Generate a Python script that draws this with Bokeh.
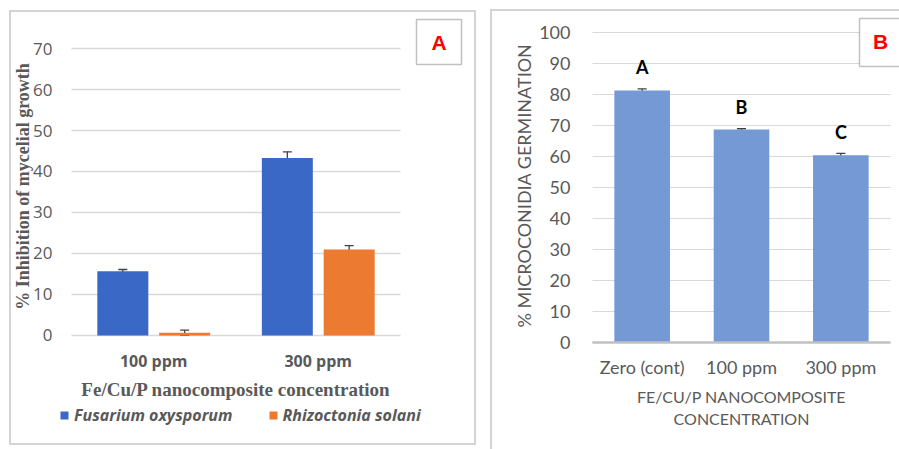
import math
from bokeh.plotting import figure
from bokeh.models import (Range1d, Whisker, TeeHead, ColumnDataSource,
                          Legend, LegendItem, Label, BoxAnnotation, FixedTicker)
from bokeh.transform import dodge
from bokeh.layouts import row
from bokeh.embed import file_html
from bokeh.resources import INLINE
from bokeh.core.properties import value

# ---------------- Panel A data ----------------
conc_a = ["100 ppm", "300 ppm"]
fusarium = [15.7, 43.3]
fusarium_err = [0.4, 1.5]
rhizoctonia = [0.7, 21.0]
rhizoctonia_err = [0.6, 0.9]
yticks_a = [0, 10, 20, 30, 40, 50, 60, 70]

# ---------------- Panel B data ----------------
conc_b = ["Zero (cont)", "100 ppm", "300 ppm"]
germination = [81.3, 68.7, 60.4]
germination_err = [0.5, 0.3, 0.6]
letters = ["A", "B", "C"]
yticks_b = [0, 10, 20, 30, 40, 50, 60, 70, 80, 90, 100]

GREY = "#595959"
GRID = "#d9d9d9"


def box_css(lines, color="#d4d4d4"):
    """lines: list of (x, y, w, h) in px of the element -> CSS background lines"""
    return {
        "background-image": ", ".join([f"linear-gradient({color},{color})"] * len(lines)),
        "background-size": ", ".join(f"{w}px {h}px" for (_, _, w, h) in lines),
        "background-position": ", ".join(f"{x}px {y}px" for (x, y, _, _) in lines),
        "background-repeat": "no-repeat",
    }


def canvas_box(left, right, top, bottom, **kw):
    return BoxAnnotation(left=left, right=right, top=top, bottom=bottom,
                         left_units="canvas", right_units="canvas",
                         top_units="canvas", bottom_units="canvas", **kw)


# ================= Panel A =================
xa = list(range(len(conc_a)))
pA = figure(x_range=Range1d(-0.8708, 1.9255), y_range=Range1d(-25.61, 77.805),
            width=490, height=449, output_backend="svg", toolbar_location=None,
            min_border_left=10, min_border_right=20, min_border_top=16, min_border_bottom=9)
pA.outline_line_color = None
pA.border_fill_color = None
pA.background_fill_color = None
pA.styles = box_css([(9, 10, 467, 2), (9, 443, 467, 2), (9, 10, 2, 435), (474, 10, 2, 435)])
pA.xgrid.grid_line_color = None
pA.ygrid.grid_line_color = GRID
pA.ygrid.grid_line_width = 1.5
pA.ygrid.cross_bounds = (-0.5, len(conc_a) - 0.5)

src_a = ColumnDataSource(dict(
    x=xa,
    fus=fusarium,
    fus_lo=[v - e for v, e in zip(fusarium, fusarium_err)],
    fus_hi=[v + e for v, e in zip(fusarium, fusarium_err)],
    rhi=rhizoctonia,
    rhi_lo=[v - e for v, e in zip(rhizoctonia, rhizoctonia_err)],
    rhi_hi=[v + e for v, e in zip(rhizoctonia, rhizoctonia_err)],
))

off = 0.188
r_fus = pA.vbar(x=dodge("x", -off), top="fus", width=0.31,
                source=src_a, fill_color="#3A68C6", line_color=None)
r_rhi = pA.vbar(x=dodge("x", off), top="rhi", width=0.31,
                source=src_a, fill_color="#EC7A30", line_color=None)

for base, lo, hi in [(-off, "fus_lo", "fus_hi"), (off, "rhi_lo", "rhi_hi")]:
    pA.add_layout(Whisker(source=src_a, base=dodge("x", base), lower=lo, upper=hi,
                          line_color="#404040", line_width=1.3,
                          upper_head=TeeHead(size=9, line_color="#404040", line_width=1.3),
                          lower_head=TeeHead(size=9, line_color="#404040", line_width=1.3)))

pA.yaxis.ticker = FixedTicker(ticks=yticks_a)
pA.yaxis.axis_line_color = None
pA.yaxis.major_tick_line_color = None
pA.yaxis.minor_tick_line_color = None
pA.yaxis.major_label_text_font = "Open Sans"
pA.yaxis.major_label_text_font_size = "17px"
pA.yaxis.major_label_text_color = GREY
pA.yaxis.major_label_standoff = -48

pA.add_layout(Label(x=22, y=186, x_units="canvas", y_units="canvas", angle=math.pi / 2,
                    text="% Inhibition of mycelial growth",
                    text_align="center", text_baseline="middle",
                    text_font="Liberation Serif", text_font_style="bold",
                    text_font_size="18px", text_color=GREY))

pA.xaxis.ticker = FixedTicker(ticks=xa)
pA.xaxis.major_label_overrides = {i: c for i, c in zip(xa, conc_a)}
pA.xaxis.axis_line_color = None
pA.xaxis.major_tick_line_color = None
pA.xaxis.minor_tick_line_color = None
pA.xaxis.major_label_text_font = "Open Sans"
pA.xaxis.major_label_text_font_style = "bold"
pA.xaxis.major_label_text_font_size = "16px"
pA.xaxis.major_label_text_color = GREY
pA.xaxis.major_label_standoff = -97

pA.add_layout(Label(x=235.5, y=389, x_units="canvas", y_units="canvas",
                    text="Fe/Cu/P nanocomposite concentration",
                    text_align="center", text_baseline="middle",
                    text_font="Liberation Serif", text_font_style="bold",
                    text_font_size="19px", text_color=GREY))

legend = Legend(items=[LegendItem(label="Fusarium oxysporum", renderers=[r_fus]),
                       LegendItem(label="Rhizoctonia solani", renderers=[r_rhi])],
                orientation="horizontal", location=(49, 14),
                glyph_width=10, glyph_height=10, label_standoff=5, spacing=35,
                padding=0, margin=0, border_line_color=None, background_fill_alpha=0,
                label_text_font="Open Sans", label_text_font_style="bold italic",
                label_text_font_size="16px", label_text_color=GREY)
pA.add_layout(legend, "center")

pA.add_layout(canvas_box(416, 461, 19, 64, fill_color="white", fill_alpha=1,
                         line_color="#333333", line_width=1.5))
pA.add_layout(Label(x=438.5, y=41.5, x_units="canvas", y_units="canvas", text="A",
                    text_align="center", text_baseline="middle", text_color="#ff0000",
                    text_font="Liberation Sans", text_font_style="bold", text_font_size="21px"))

# ================= Panel B =================
xb = list(range(len(conc_b)))
pB = figure(x_range=Range1d(-1.4262, 2.5906), y_range=Range1d(-31.613, 105.161),
            width=409, height=449, output_backend="svg", toolbar_location=None,
            min_border_left=10, min_border_right=0, min_border_top=16, min_border_bottom=9)
pB.outline_line_color = None
pB.border_fill_color = None
pB.background_fill_color = None
pB.styles = box_css([(0, 9, 409, 2), (0, 9, 2, 440)])
pB.xgrid.grid_line_color = None
pB.ygrid.grid_line_color = GRID
pB.ygrid.grid_line_width = 1
pB.ygrid.cross_bounds = (-0.5, len(conc_b) - 0.5)

src_b = ColumnDataSource(dict(
    x=xb, germ=germination, letter=letters,
    lo=[v - e for v, e in zip(germination, germination_err)],
    hi=[v + e for v, e in zip(germination, germination_err)],
))
pB.vbar(x="x", top="germ", width=0.56, source=src_b, fill_color="#7599D5", line_color=None)
# category axis line at value 0
pB.segment(x0=[-0.5], x1=[len(conc_b) - 0.5], y0=[0], y1=[0], line_color="#c0c0c0", line_width=2.5)
pB.add_layout(Whisker(source=src_b, base="x", lower="lo", upper="hi",
                      line_color="#404040", line_width=1.3,
                      upper_head=TeeHead(size=9, line_color="#404040", line_width=1.3),
                      lower_head=TeeHead(size=9, line_color="#404040", line_width=1.3)))
pB.text(x="x", y="germ", text="letter", source=src_b, y_offset=-23,
        text_align="center", text_baseline="middle", text_color="black",
        text_font=value("Lato"), text_font_style="bold", text_font_size="18px")

pB.yaxis.ticker = FixedTicker(ticks=yticks_b)
pB.yaxis.axis_line_color = None
pB.yaxis.major_tick_line_color = None
pB.yaxis.minor_tick_line_color = None
pB.yaxis.major_label_text_font = "Lato"
pB.yaxis.major_label_text_font_size = "18px"
pB.yaxis.major_label_text_color = GREY
pB.yaxis.major_label_standoff = -76

pB.add_layout(Label(x=33, y=185, x_units="canvas", y_units="canvas", angle=math.pi / 2,
                    text="% MICROCONIDIA GERMINATION",
                    text_align="center", text_baseline="middle",
                    text_font="Lato", text_font_size="18px", text_color=GREY))

pB.xaxis.ticker = FixedTicker(ticks=xb)
pB.xaxis.major_label_overrides = {i: c for i, c in zip(xb, conc_b)}
pB.xaxis.axis_line_color = None
pB.xaxis.major_tick_line_color = None
pB.xaxis.minor_tick_line_color = None
pB.xaxis.major_label_text_font = "Lato"
pB.xaxis.major_label_text_font_size = "18px"
pB.xaxis.major_label_text_color = GREY
pB.xaxis.major_label_standoff = -91

for txt, yy in [("FE/CU/P NANOCOMPOSITE", 396), ("CONCENTRATION", 418)]:
    pB.add_layout(Label(x=251, y=yy, x_units="canvas", y_units="canvas", text=txt,
                        text_align="center", text_baseline="middle",
                        text_font="Lato", text_font_size="16px", text_color=GREY))

pB.add_layout(canvas_box(369, 430, 18, 66, fill_color="white", fill_alpha=1,
                         line_color="#333333", line_width=1.5))
pB.add_layout(Label(x=390, y=41, x_units="canvas", y_units="canvas", text="B",
                    text_align="center", text_baseline="middle", text_color="#ff0000",
                    text_font="Liberation Sans", text_font_style="bold", text_font_size="21px"))

layout = row(pA, pB)
open("out.html", "w").write(file_html(layout, INLINE))
